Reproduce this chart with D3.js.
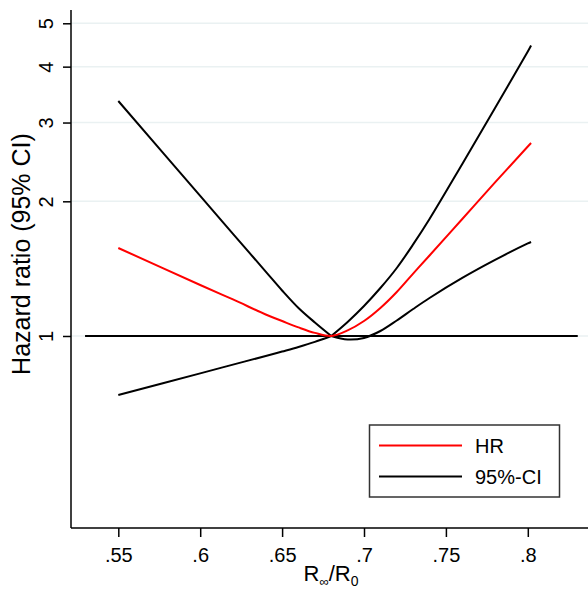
<!DOCTYPE html>
<html><head><meta charset="utf-8">
<script src="https://cdn.jsdelivr.net/npm/d3@7"></script>
<style>body{margin:0;background:#fff}svg{display:block}text{font-family:"Liberation Sans",Arial,sans-serif;fill:#000}</style>
</head><body><svg id="c" width="588" height="590"></svg>
<script>
const xVals   = [.55, .60, .62, .64, .65, .66, .67, .68, .69, .70, .71, .72, .73, .74, .76, .78, .80, .802];
const hr      = [1.573, 1.300, 1.207, 1.117, 1.080, 1.045, 1.016, 1.0, 1.029, 1.080, 1.155, 1.254, 1.379, 1.513, 1.826, 2.204, 2.652, 2.700];
const ciUpper = [3.352, 2.056, 1.692, 1.393, 1.264, 1.155, 1.072, 1.0, 1.075, 1.167, 1.280, 1.419, 1.602, 1.826, 2.424, 3.233, 4.324, 4.460];
const ciLower = [0.738, 0.825, 0.863, 0.902, 0.923, 0.945, 0.970, 1.0, 0.982, 0.990, 1.026, 1.083, 1.149, 1.216, 1.348, 1.479, 1.610, 1.622];
const pivotX = .68;
const xTicks = [.55, .6, .65, .7, .75, .8];
const xTickLabels = [".55", ".6", ".65", ".7", ".75", ".8"];
const yTicks = [1, 2, 3, 4, 5];
const refLine = [{x: .5297, y: 1}, {x: .8305, y: 1}];
const legendItems = [{label: "HR", color: "#ff0000"}, {label: "95%-CI", color: "#000"}];

const svg = d3.select("#c");
const x = d3.scaleLinear().domain([.52112, .83675]).range([71, 588]);
const y = d3.scaleLog().domain([0.3722, 5.354]).range([528, 10]);

// gridlines
svg.append("g").selectAll("line").data(yTicks).join("line")
  .attr("x1", 71).attr("x2", 588).attr("y1", d => y(d)).attr("y2", d => y(d))
  .attr("stroke", "#eaf1f2").attr("stroke-width", 1.5);

// axes
const yAxis = svg.append("g").attr("transform", "translate(71,0)")
  .call(d3.axisLeft(y).tickValues(yTicks).tickFormat(d3.format("d")).tickSize(8).tickPadding(0));
yAxis.select(".domain").attr("d", "M0,10V528").attr("stroke", "#000").attr("stroke-width", 1.5);
yAxis.selectAll(".tick line").attr("stroke", "#000").attr("stroke-width", 1.5);
yAxis.selectAll(".tick text").attr("x", null).attr("dy", null)
  .attr("transform", "translate(-18.5,0) rotate(-90)").attr("text-anchor", "middle")
  .style("font-size", "20px").style("font-family", '"Liberation Sans",Arial,sans-serif');

const xAxis = svg.append("g").attr("transform", "translate(0,528)")
  .call(d3.axisBottom(x).tickValues(xTicks).tickFormat((d, i) => xTickLabels[i]).tickSize(9).tickPadding(6));
xAxis.select(".domain").attr("d", "M71,0H588").attr("stroke", "#000").attr("stroke-width", 1.5);
xAxis.selectAll(".tick line").attr("stroke", "#000").attr("stroke-width", 1.5);
xAxis.selectAll(".tick text").attr("dy", null).attr("y", 34)
  .style("font-size", "20px").style("font-family", '"Liberation Sans",Arial,sans-serif');

// reference line at HR = 1
svg.append("path").datum(refLine).attr("d", d3.line().x(d => x(d.x)).y(d => y(d.y)))
  .attr("fill", "none").attr("stroke", "#000").attr("stroke-width", 2);

const line = d3.line().x(d => x(d.x)).y(d => y(d.y)).curve(d3.curveCatmullRom.alpha(0.5));
const pts = vals => xVals.map((v, i) => ({x: v, y: vals[i]}));
// CI bounds have a corner at the reference point: draw each side separately
const pieces = [];
[ciUpper, ciLower].forEach(vals => {
  const p = pts(vals);
  pieces.push({d: p.filter(q => q.x <= pivotX), color: "#000"});
  pieces.push({d: p.filter(q => q.x >= pivotX), color: "#000"});
});
pieces.push({d: pts(hr), color: "#ff0000"});
svg.append("g").selectAll("path").data(pieces).join("path")
  .attr("d", s => line(s.d))
  .attr("fill", "none").attr("stroke", s => s.color).attr("stroke-width", 2)
  .attr("stroke-linejoin", "round");

// axis titles
svg.append("text").attr("transform", "translate(29.5,254) rotate(-90)").attr("text-anchor", "middle")
  .style("font-size", "25px").text("Hazard ratio (95% CI)");
const xt = svg.append("text").attr("x", 331).attr("y", 581).attr("text-anchor", "middle").style("font-size", "22px");
xt.append("tspan").text("R");
xt.append("tspan").attr("dy", 5).style("font-size", "13px").text("∞");
xt.append("tspan").attr("dy", -5).text("/R");
xt.append("tspan").attr("dy", 5).style("font-size", "14px").text("0");

// legend
const lg = svg.append("g");
lg.append("rect").attr("x", 369.5).attr("y", 425).attr("width", 190).attr("height", 72)
  .attr("fill", "#fff").attr("stroke", "#333").attr("stroke-width", 1.5);
const li = lg.selectAll("g.it").data(legendItems).join("g").attr("class", "it")
  .attr("transform", (d, i) => `translate(0,${445.5 + i * 31})`);
li.append("line").attr("x1", 379).attr("x2", 462).attr("stroke", d => d.color).attr("stroke-width", 2);
li.append("text").attr("x", 475).attr("y", 7.5).style("font-size", "20px").text(d => d.label);
</script></body></html>
